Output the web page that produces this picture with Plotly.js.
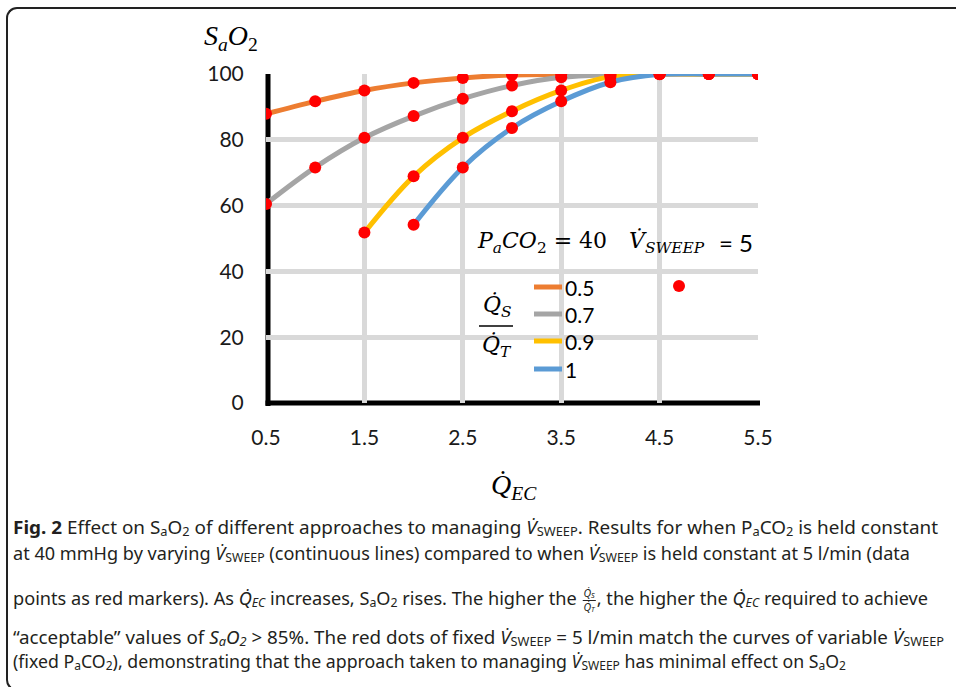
<!DOCTYPE html>
<html>
<head>
<meta charset="utf-8">
<script src="https://cdn.plot.ly/plotly-3.0.1.min.js"></script>
<style>
  html, body { margin:0; padding:0; background:#fff; }
  #wrap { position:relative; width:956px; height:687px; overflow:hidden; background:#fff; }
  #plot { position:absolute; left:0; top:0; width:956px; height:687px; }
  #frame { position:absolute; left:6px; top:7px; width:1000px; height:680px;
           border-top:2px solid #222; border-left:2px solid #222; border-bottom:2px solid #222;
           border-top-left-radius:11px; border-bottom-left-radius:11px; pointer-events:none; }
  .cap { position:absolute; left:13px; white-space:nowrap; font-family:"Noto Sans", sans-serif;
         font-size:18px; line-height:20px; color:#231f20; transform-origin:0 50%; }
  .cap sub { font-size:0.68em; vertical-align:-0.15em; line-height:0; }
  .frac { display:inline-block; vertical-align:middle; text-align:center; font-size:10.5px; line-height:13px; margin:0 1px; }
  .frac .n { display:block; border-bottom:1px solid #231f20; padding:0 1px; }
  .frac .d { display:block; }
</style>
</head>
<body>
<div id="wrap">
  <div id="plot"></div>
  <div id="frame"></div>
  <div class="cap" data-w="925" style="top:517px"><b>Fig. 2</b> Effect on S<sub>a</sub>O<sub>2</sub> of different approaches to managing <i>V&#775;</i><sub>SWEEP</sub>. Results for when P<sub>a</sub>CO<sub>2</sub> is held constant</div>
  <div class="cap" data-w="897" style="top:543px">at 40 mmHg by varying <i>V&#775;</i><sub>SWEEP</sub> (continuous lines) compared to when <i>V&#775;</i><sub>SWEEP</sub> is held constant at 5 l/min (data</div>
  <div class="cap" data-w="915" style="top:587px">points as red markers). As <i>Q&#775;<sub>EC</sub></i> increases, S<sub>a</sub>O<sub>2</sub> rises. The higher the <span class="frac"><span class="n"><i>Q&#775;<sub>S</sub></i></span><span class="d"><i>Q&#775;<sub>T</sub></i></span></span>, the higher the <i>Q&#775;<sub>EC</sub></i> required to achieve</div>
  <div class="cap" data-w="931" style="top:627px">&#8220;acceptable&#8221; values of <i>S<sub>a</sub>O<sub>2</sub></i> &gt; 85%. The red dots of fixed <i>V&#775;</i><sub>SWEEP</sub> = 5 l/min match the curves of variable <i>V&#775;</i><sub>SWEEP</sub></div>
  <div class="cap" data-w="833" style="top:651px">(fixed P<sub>a</sub>CO<sub>2</sub>), demonstrating that the approach taken to managing <i>V&#775;</i><sub>SWEEP</sub> has minimal effect on S<sub>a</sub>O<sub>2</sub></div>
</div>
<script>
// ---- data ----
const qecX       = [0.5, 1, 1.5, 2, 2.5, 3, 3.5, 4, 4.5, 5, 5.5];
const ratioNames = ['0.5', '0.7', '0.9', '1'];
const sao2_05 = [87.9, 91.7, 95.0, 97.3, 98.8, 99.7, 99.9, 100, 100, 100, 100];
const sao2_07 = [60.5, 71.6, 80.6, 87.2, 92.5, 96.5, 99.0, 99.8, 100, 100, 100];
const qecX_09 = [1.5, 2, 2.5, 3, 3.5, 4, 4.5, 5, 5.5];
const sao2_09 = [51.8, 68.9, 80.6, 88.7, 95.0, 99.2, 100, 100, 100];
const qecX_10 = [2, 2.5, 3, 3.5, 4, 4.5, 5, 5.5];
const sao2_10 = [54.2, 71.6, 83.6, 91.7, 97.5, 99.9, 100, 100];
const yTicks  = [0, 20, 40, 60, 80, 100];
const xTicks  = [0.5, 1.5, 2.5, 3.5, 4.5, 5.5];

const colors = ['#ED7D31', '#A5A5A5', '#FFC000', '#5B9BD5'];
const seriesX = [qecX, qecX, qecX_09, qecX_10];
const seriesY = [sao2_05, sao2_07, sao2_09, sao2_10];

// pixel -> paper helpers (plot area 266..758 x 74..403)
const L = 266, R = 758, T = 74, B = 403;
const px = p => (p - L) / (R - L);
const py = p => (B - p) / (B - T);

const traces = [];
seriesY.forEach((ys, i) => {
  traces.push({ x: seriesX[i], y: ys, type: 'scatter', mode: 'lines', name: ratioNames[i],
    line: { color: colors[i], width: 5, shape: 'spline', smoothing: 1 }, showlegend: false, hoverinfo: 'skip' });
});
seriesY.forEach((ys, i) => {
  traces.push({ x: seriesX[i], y: ys, type: 'scatter', mode: 'markers', name: 'V sweep = 5',
    marker: { color: '#FF0000', size: 12 }, showlegend: false, hoverinfo: 'skip' });
});

const serif = 'Liberation Serif, serif';
const mathf = 'DejaVu Serif, serif';
const sans = 'Lato, sans-serif';

const shapes = [
  // white masks behind the in-plot legend (above grid, below traces)
  { type:'rect', xref:'paper', yref:'paper', x0:px(469), x1:px(752), y0:py(278), y1:py(222),
    fillcolor:'#fff', line:{width:0}, layer:'between' },
  { type:'rect', xref:'paper', yref:'paper', x0:px(469), x1:px(607), y0:py(383), y1:py(278),
    fillcolor:'#fff', line:{width:0}, layer:'between' },
  // black axis lines
  { type:'line', xref:'paper', yref:'paper', x0:px(268), x1:px(268), y0:py(406), y1:py(74),
    line:{color:'#000', width:5}, layer:'between' },
  { type:'line', xref:'paper', yref:'paper', x0:px(265.5), x1:px(760), y0:py(403), y1:py(403),
    line:{color:'#000', width:5}, layer:'between' },
  // fraction bar
  { type:'line', xref:'paper', yref:'paper', x0:px(479), x1:px(513), y0:py(326), y1:py(326),
    line:{color:'#000', width:1.5}, layer:'above' },
  // legend marker for fixed sweep
  { type:'circle', xref:'paper', yref:'paper', x0:px(673), x1:px(685), y0:py(292), y1:py(280),
    fillcolor:'#FF0000', line:{width:0}, layer:'above' }
];
const legY = [287, 314, 341, 369];
legY.forEach((yy, i) => {
  shapes.push({ type:'line', xref:'paper', yref:'paper', x0:px(534), x1:px(562), y0:py(yy), y1:py(yy),
    line:{color:colors[i], width:5}, layer:'above' });
});

const annotations = [
  { text:'<i>S</i><sub><i>a</i></sub><i>O</i><sub>2</sub>', x:px(202), y:py(37), xanchor:'left', yanchor:'middle',
    font:{family:serif, size:28, color:'#000'} },
  { text:'<i>Q\u0307</i><sub><i>EC</i></sub>', x:px(489), y:py(486), xanchor:'left', yanchor:'middle',
    font:{family:serif, size:28, color:'#000'} },
  { text:'<i>P</i><sub><i>a</i></sub><i>CO</i><sub>2</sub> = 40', x:px(475), y:py(243), xanchor:'left', yanchor:'middle',
    font:{family:mathf, size:22, color:'#000'} },
  { text:'<i>V\u0307</i><sub><i>SWEEP</i></sub>', x:px(627), y:py(243), xanchor:'left', yanchor:'middle',
    font:{family:mathf, size:22, color:'#000'} },
  { text:'= 5', x:px(717), y:py(243), xanchor:'left', yanchor:'middle',
    font:{family:sans, size:24, color:'#000'} },
  { text:'<i>Q\u0307</i><sub><i>S</i></sub>', x:px(497), y:py(306), xanchor:'center', yanchor:'middle',
    font:{family:mathf, size:22, color:'#000'} },
  { text:'<i>Q\u0307</i><sub><i>T</i></sub>', x:px(497), y:py(346), xanchor:'center', yanchor:'middle',
    font:{family:mathf, size:22, color:'#000'} }
];
ratioNames.forEach((n, i) => {
  annotations.push({ text:n, x:px(563), y:py(legY[i]), xanchor:'left', yanchor:'middle',
    font:{family:sans, size:21, color:'#000'} });
});
annotations.forEach(a => { a.xref = 'paper'; a.yref = 'paper'; a.showarrow = false; });

const layout = {
  width:956, height:687,
  margin:{ l:L, r:956 - R, t:T, b:687 - B, pad:0 },
  paper_bgcolor:'rgba(0,0,0,0)', plot_bgcolor:'rgba(0,0,0,0)',
  showlegend:false,
  xaxis:{ range:[0.5, 5.5], tickvals:xTicks, ticktext:xTicks.map(v => v.toFixed(1)),
    showgrid:true, gridcolor:'#D9D9D9', gridwidth:5, zeroline:false, showline:false,
    ticks:'outside', ticklen:16, tickcolor:'rgba(0,0,0,0)',
    tickfont:{family:sans, size:21, color:'#1a1a1a'} },
  yaxis:{ range:[0, 100], tickvals:yTicks, ticktext:yTicks.map(String),
    showgrid:true, gridcolor:'#D9D9D9', gridwidth:5, zeroline:false, showline:false,
    ticks:'outside', ticklen:17, tickcolor:'rgba(0,0,0,0)',
    tickfont:{family:sans, size:21, color:'#1a1a1a'} },
  shapes:shapes, annotations:annotations
};

Plotly.newPlot('plot', traces, layout, {staticPlot:true, displayModeBar:false});

// condense caption lines to match the reference widths
document.querySelectorAll('.cap').forEach(el => {
  const w = el.getBoundingClientRect().width;
  const target = parseFloat(el.getAttribute('data-w'));
  el.style.transform = 'scaleX(' + (target / w) + ')';
});
</script>
</body>
</html>
